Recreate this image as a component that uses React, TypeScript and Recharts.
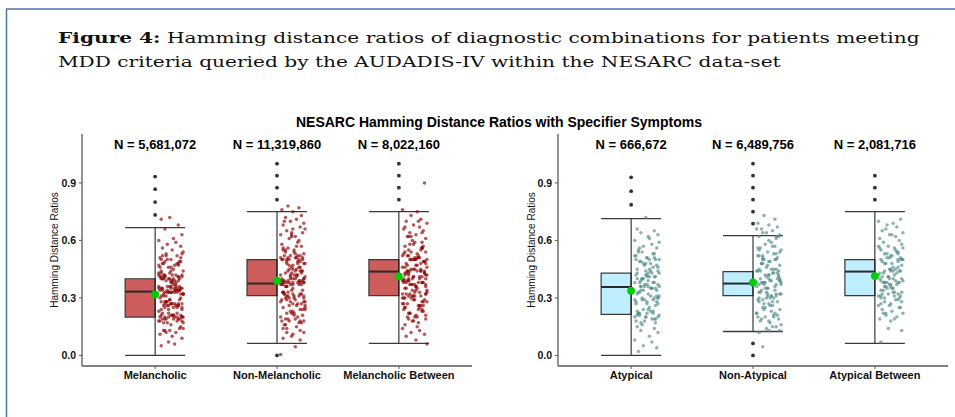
import React from 'react';
import { ComposedChart, XAxis, YAxis, Scatter, ReferenceArea, ReferenceLine } from 'recharts';

// ---------- data ----------
const LEFT_CATS = ['Melancholic', 'Non-Melancholic', 'Melancholic Between'];
const RIGHT_CATS = ['Atypical', 'Non-Atypical', 'Atypical Between'];
const LEFT_N = ['N = 5,681,072', 'N = 11,319,860', 'N = 8,022,160'];
const RIGHT_N = ['N = 666,672', 'N = 6,489,756', 'N = 2,081,716'];

const LEFT_LO = [0, 0.0625, 0.0625];
const LEFT_Q1 = [0.2, 0.3125, 0.3125];
const LEFT_MED = [0.333, 0.375, 0.4375];
const LEFT_Q3 = [0.4, 0.5, 0.5];
const LEFT_HI = [0.667, 0.75, 0.75];
const LEFT_MEAN = [0.318, 0.39, 0.412];

const RIGHT_LO = [0, 0.125, 0.0625];
const RIGHT_Q1 = [0.214, 0.3125, 0.3125];
const RIGHT_MED = [0.357, 0.375, 0.4375];
const RIGHT_Q3 = [0.429, 0.4375, 0.5];
const RIGHT_HI = [0.714, 0.625, 0.75];
const RIGHT_MEAN = [0.338, 0.381, 0.414];

const MEL_OUT = [0.933, 0.867, 0.8, 0.733];
const NONMEL_OUT = [1.0, 0.9375, 0.875, 0.8125, 0.0];
const MELBET_OUT = [1.0, 0.9375, 0.875, 0.8125];
const ATYP_OUT = [0.929, 0.857, 0.786];
const NONATYP_OUT = [1.0, 0.9375, 0.875, 0.8125, 0.75, 0.6875, 0.0625, 0.0];
const ATYPBET_OUT = [0.9375, 0.875, 0.8125];

const MEL_Y = [
  0.72, 0.71, 0.68, 0.66,
  0.63, 0.61, 0.60, 0.59, 0.58, 0.57, 0.56, 0.55, 0.54, 0.53,
  0.52, 0.51, 0.50, 0.49, 0.48, 0.47, 0.46, 0.53, 0.50, 0.48, 0.46, 0.49, 0.51, 0.47, 0.45, 0.50, 0.48, 0.52,
  0.44, 0.43, 0.42, 0.41, 0.40, 0.39, 0.38, 0.42, 0.41, 0.40, 0.39, 0.43, 0.41, 0.42, 0.38, 0.40, 0.44, 0.39, 0.41, 0.42, 0.40, 0.43,
  0.37, 0.36, 0.35, 0.34, 0.33, 0.32, 0.31, 0.35, 0.34, 0.33, 0.36, 0.32, 0.34, 0.33, 0.35, 0.31, 0.34, 0.36, 0.33, 0.32, 0.35, 0.37, 0.34, 0.33, 0.35, 0.32, 0.36, 0.34,
  0.30, 0.29, 0.28, 0.27, 0.26, 0.25, 0.24, 0.27, 0.28, 0.26, 0.25, 0.27, 0.29, 0.24, 0.26, 0.28, 0.27, 0.25, 0.23, 0.26, 0.28, 0.30,
  0.22, 0.21, 0.20, 0.19, 0.18, 0.20, 0.21, 0.19, 0.17, 0.20, 0.22, 0.18, 0.21, 0.19, 0.16, 0.20, 0.15, 0.18, 0.21, 0.17, 0.20, 0.19,
  0.14, 0.13, 0.12, 0.11, 0.14, 0.12, 0.10, 0.13, 0.09, 0.07, 0.06, 0.05,
  0.47, 0.41, 0.35, 0.33, 0.40, 0.34, 0.27, 0.20, 0.19, 0.42, 0.36, 0.26, 0.21, 0.48, 0.39, 0.32, 0.28, 0.22, 0.18, 0.44,
  0.34, 0.40, 0.33, 0.26, 0.20, 0.35, 0.41, 0.27, 0.19, 0.49, 0.36, 0.21, 0.33, 0.25, 0.40, 0.17, 0.29, 0.38, 0.46, 0.34,
  0.52, 0.42, 0.31, 0.24, 0.20, 0.35, 0.41, 0.27, 0.13, 0.39,
];
const NONMEL_Y = [
  0.78, 0.77, 0.76, 0.75, 0.73, 0.72, 0.71, 0.70, 0.69, 0.68, 0.67, 0.66, 0.65, 0.64, 0.63, 0.62, 0.61, 0.60, 0.70, 0.66, 0.63,
  0.59, 0.58, 0.57, 0.56, 0.55, 0.54, 0.53, 0.52, 0.51, 0.50, 0.49, 0.48, 0.47, 0.46, 0.55, 0.52, 0.50, 0.48, 0.53, 0.51, 0.49, 0.47, 0.50, 0.52, 0.54, 0.48, 0.51, 0.46, 0.50,
  0.45, 0.44, 0.43, 0.42, 0.41, 0.40, 0.39, 0.38, 0.37, 0.36, 0.44, 0.42, 0.40, 0.38, 0.37, 0.39, 0.41, 0.43, 0.38, 0.40, 0.37, 0.39, 0.42, 0.36, 0.38, 0.40, 0.41, 0.37, 0.39, 0.38,
  0.35, 0.34, 0.33, 0.32, 0.31, 0.30, 0.29, 0.28, 0.27, 0.26, 0.34, 0.32, 0.30, 0.28, 0.33, 0.31, 0.29, 0.27, 0.32, 0.30, 0.26, 0.28, 0.31,
  0.25, 0.24, 0.23, 0.22, 0.21, 0.20, 0.19, 0.18, 0.17, 0.16, 0.24, 0.22, 0.20, 0.18, 0.17, 0.19, 0.21, 0.16, 0.18, 0.23,
  0.15, 0.14, 0.13, 0.12, 0.11, 0.10, 0.09, 0.08, 0.14, 0.12, 0.045, 0.005,
  0.52, 0.45, 0.39, 0.38, 0.31, 0.25, 0.44, 0.50, 0.37, 0.32, 0.27, 0.19, 0.57, 0.42, 0.38, 0.33, 0.46, 0.40, 0.29, 0.51,
  0.37, 0.44, 0.50, 0.39, 0.32, 0.26, 0.62, 0.48, 0.38, 0.43, 0.31, 0.22, 0.55, 0.40, 0.37, 0.45, 0.33, 0.18, 0.49, 0.38,
  0.64, 0.56, 0.44, 0.36, 0.28, 0.51, 0.39, 0.42, 0.30, 0.24,
];
const MELBET_Y = [
  0.90, 0.76, 0.75, 0.73, 0.71, 0.70, 0.69, 0.68, 0.67, 0.66, 0.65, 0.64, 0.63, 0.62, 0.61, 0.60, 0.70, 0.67, 0.64, 0.62,
  0.59, 0.58, 0.57, 0.56, 0.55, 0.54, 0.53, 0.52, 0.51, 0.50, 0.49, 0.48, 0.47, 0.46, 0.58, 0.55, 0.53, 0.51, 0.49, 0.47, 0.52, 0.50, 0.48, 0.54, 0.56, 0.50, 0.52, 0.49, 0.46, 0.51,
  0.45, 0.44, 0.43, 0.42, 0.41, 0.40, 0.39, 0.38, 0.37, 0.36, 0.44, 0.42, 0.40, 0.38, 0.43, 0.41, 0.39, 0.37, 0.45, 0.42, 0.38, 0.40, 0.36, 0.44, 0.39, 0.41, 0.37, 0.43,
  0.35, 0.34, 0.33, 0.32, 0.31, 0.30, 0.29, 0.28, 0.27, 0.26, 0.34, 0.32, 0.30, 0.28, 0.33, 0.31, 0.29, 0.27, 0.35, 0.30, 0.26, 0.32, 0.28, 0.31,
  0.25, 0.24, 0.23, 0.22, 0.21, 0.20, 0.19, 0.18, 0.17, 0.16, 0.24, 0.22, 0.20, 0.18, 0.25, 0.23, 0.19, 0.21,
  0.15, 0.14, 0.13, 0.12, 0.11, 0.10, 0.08, 0.06,
  0.50, 0.44, 0.38, 0.31, 0.26, 0.44, 0.51, 0.37, 0.32, 0.25, 0.56, 0.45, 0.39, 0.43, 0.30, 0.20, 0.62, 0.48, 0.38, 0.50,
  0.41, 0.33, 0.27, 0.57, 0.44, 0.36, 0.52, 0.40, 0.31, 0.24, 0.46, 0.38, 0.43, 0.50, 0.29, 0.35, 0.59, 0.42, 0.37, 0.47,
  0.32, 0.26, 0.54, 0.44, 0.39, 0.50, 0.34, 0.22, 0.45, 0.40,
];
const ATYP_Y = [
  0.72, 0.66, 0.65, 0.64, 0.63, 0.61, 0.60, 0.58, 0.57, 0.56, 0.55, 0.62, 0.59,
  0.54, 0.53, 0.52, 0.51, 0.50, 0.49, 0.48, 0.47, 0.46, 0.45, 0.53, 0.51, 0.49, 0.47, 0.52, 0.50, 0.48, 0.46, 0.54, 0.50,
  0.44, 0.43, 0.42, 0.41, 0.40, 0.39, 0.38, 0.37, 0.36, 0.35, 0.43, 0.41, 0.39, 0.37, 0.42, 0.40, 0.38, 0.36, 0.44, 0.41, 0.38, 0.35, 0.40,
  0.34, 0.33, 0.32, 0.31, 0.30, 0.29, 0.28, 0.27, 0.26, 0.33, 0.31, 0.29, 0.27, 0.32, 0.30, 0.28, 0.34, 0.31, 0.29,
  0.25, 0.24, 0.23, 0.22, 0.21, 0.20, 0.19, 0.18, 0.17, 0.16, 0.24, 0.22, 0.20, 0.18, 0.23, 0.21, 0.19, 0.17, 0.22, 0.20,
  0.15, 0.14, 0.13, 0.12, 0.10, 0.08, 0.07, 0.05, 0.04, 0.02,
  0.43, 0.36, 0.29, 0.22, 0.50, 0.41, 0.35, 0.21, 0.44, 0.37, 0.30, 0.23, 0.51, 0.42, 0.36, 0.28, 0.20, 0.45, 0.34, 0.38,
  0.22, 0.43, 0.48, 0.35, 0.27, 0.19, 0.40, 0.36, 0.56, 0.30,
];
const NONATYP_Y = [
  0.73, 0.71, 0.69, 0.68, 0.67, 0.66, 0.65, 0.64, 0.63, 0.62, 0.61, 0.60, 0.64, 0.62, 0.66,
  0.59, 0.58, 0.57, 0.56, 0.55, 0.54, 0.53, 0.52, 0.51, 0.50, 0.49, 0.48, 0.47, 0.46, 0.57, 0.55, 0.53, 0.51, 0.49, 0.47, 0.52, 0.50, 0.48, 0.54,
  0.45, 0.44, 0.43, 0.42, 0.41, 0.40, 0.39, 0.38, 0.37, 0.36, 0.44, 0.42, 0.40, 0.38, 0.43, 0.41, 0.39, 0.37, 0.45, 0.40, 0.38, 0.42, 0.36, 0.39,
  0.35, 0.34, 0.33, 0.32, 0.31, 0.30, 0.29, 0.28, 0.27, 0.26, 0.34, 0.32, 0.30, 0.28, 0.33, 0.31, 0.29, 0.27, 0.35, 0.30, 0.32,
  0.25, 0.24, 0.23, 0.22, 0.21, 0.20, 0.19, 0.18, 0.17, 0.16, 0.24, 0.22, 0.20, 0.18, 0.21, 0.19,
  0.15, 0.14, 0.13, 0.12, 0.15, 0.13, 0.045,
  0.44, 0.38, 0.31, 0.25, 0.50, 0.44, 0.37, 0.32, 0.20, 0.56, 0.43, 0.38, 0.30, 0.48, 0.39, 0.33, 0.26, 0.45, 0.37, 0.52,
  0.42, 0.35, 0.28, 0.62, 0.50, 0.40, 0.31, 0.22, 0.45, 0.38,
];
const ATYPBET_Y = [
  0.71, 0.70, 0.69, 0.68, 0.67, 0.65, 0.64, 0.63, 0.62, 0.61, 0.60, 0.66, 0.63,
  0.59, 0.58, 0.57, 0.56, 0.55, 0.54, 0.53, 0.52, 0.51, 0.50, 0.49, 0.48, 0.47, 0.46, 0.57, 0.55, 0.53, 0.51, 0.49, 0.52, 0.50, 0.48, 0.54, 0.56,
  0.45, 0.44, 0.43, 0.42, 0.41, 0.40, 0.39, 0.38, 0.37, 0.36, 0.44, 0.42, 0.40, 0.38, 0.43, 0.41, 0.39, 0.37, 0.45, 0.40, 0.38, 0.36,
  0.35, 0.34, 0.33, 0.32, 0.31, 0.30, 0.29, 0.28, 0.27, 0.26, 0.34, 0.32, 0.30, 0.28, 0.33, 0.31, 0.29, 0.35,
  0.25, 0.24, 0.23, 0.22, 0.21, 0.20, 0.19, 0.18, 0.25, 0.22, 0.19,
  0.14, 0.13, 0.07,
  0.50, 0.44, 0.38, 0.31, 0.26, 0.44, 0.51, 0.37, 0.32, 0.56, 0.45, 0.39, 0.43, 0.30, 0.22, 0.48, 0.38, 0.50, 0.41, 0.33,
  0.27, 0.53, 0.44, 0.36, 0.40, 0.31, 0.46, 0.38, 0.50, 0.35,
];

// horizontal jitter offsets (fraction of a category step, to the right of center)
const JX = [0.12, 0.05, 0.19, 0.08, 0.22, 0.15, 0.03, 0.17, 0.10, 0.21, 0.06, 0.14, 0.23, 0.09, 0.18, 0.04, 0.13, 0.20, 0.07, 0.16, 0.11, 0.22, 0.05, 0.19, 0.13, 0.08, 0.21, 0.03, 0.15, 0.10, 0.18, 0.06, 0.23, 0.12, 0.17, 0.04, 0.20, 0.09, 0.14, 0.07, 0.22, 0.11, 0.16, 0.05, 0.19, 0.08, 0.13];

const Y_TICKS = [0, 0.3, 0.6, 0.9];
const N_LABEL_Y = 1.1;

const CAPTION_BOLD = 'Figure 4:';
const CAPTION_L1 = ' Hamming distance ratios of diagnostic combinations for patients meeting';
const CAPTION_L2 = 'MDD criteria queried by the AUDADIS-IV within the NESARC data-set';

// ---------- styles ----------
const SANS = 'Liberation Sans, Arial, Helvetica, sans-serif';
const SERIF = '"DejaVu Serif", serif';
const CAP_SIZE = 15.5;
const CAP_X = 58;
const CAP_W1 = 862;
const CAP_W2 = 723;
const HALF = 0.246;

function measure(text: string, font: string): number {
  try {
    const ctx = document.createElement('canvas').getContext('2d');
    if (!ctx) return text.length * 8.5;
    ctx.font = font;
    return ctx.measureText(text).width;
  } catch (e) {
    return text.length * 8.5;
  }
}

type PanelProps = {
  cats: string[];
  ns: string[];
  lo: number[];
  q1: number[];
  med: number[];
  q3: number[];
  hi: number[];
  mean: number[];
  outliers: number[][];
  points: number[][];
  boxFill: string;
  pointFill: string;
  width: number;
  marginLeft: number;
  marginRight: number;
};

function Panel(p: PanelProps) {
  const jitter = p.points.flatMap((ys, ci) =>
    ys.map((y, i) => ({ x: ci + 1 + JX[(i + ci * 13) % JX.length], y }))
  );
  const outs = p.outliers.flatMap((ys, ci) => ys.map((y) => ({ x: ci + 1, y })));
  const means = p.mean.map((y, ci) => ({ x: ci + 1, y }));
  const stroke = '#3a3a3a';
  return (
    <ComposedChart
      width={p.width}
      height={417}
      margin={{ top: 134, right: p.marginRight, bottom: 21, left: p.marginLeft }}
    >
      <XAxis
        type="number"
        dataKey="x"
        domain={[0.4, 3.6]}
        ticks={[1, 2, 3]}
        interval={0}
        allowDataOverflow
        height={30}
        tickSize={3}
        tickMargin={2}
        tickFormatter={(v: number) => p.cats[Math.round(v) - 1]}
        axisLine={{ stroke: '#5a5a5a', strokeWidth: 1.3 }}
        tickLine={{ stroke: '#5a5a5a' }}
        tick={{ fill: '#111', fontSize: 11, fontWeight: 'bold', fontFamily: SANS }}
      />
      <YAxis
        type="number"
        dataKey="y"
        domain={[-0.055, 1.155]}
        ticks={Y_TICKS}
        interval={0}
        allowDataOverflow
        width={40}
        tickSize={3}
        tickMargin={3}
        tickFormatter={(v: number) => v.toFixed(1)}
        axisLine={{ stroke: '#5a5a5a', strokeWidth: 1.3 }}
        tickLine={{ stroke: '#5a5a5a' }}
        tick={{ fill: '#111', fontSize: 10.5, fontWeight: 'bold', fontFamily: SANS }}
      />
      {p.cats.map((_, ci) => {
        const c = ci + 1;
        return (
          <ReferenceArea
            key={'box' + ci}
            x1={c - HALF}
            x2={c}
            y1={p.q1[ci]}
            y2={p.q3[ci]}
            fill={p.boxFill}
            fillOpacity={1}
            stroke={stroke}
            strokeWidth={1.2}
            ifOverflow="visible"
          />
        );
      })}
      {p.cats.map((_, ci) => {
        const c = ci + 1;
        return (
          <ReferenceLine
            key={'vw' + ci}
            segment={[{ x: c, y: p.lo[ci] }, { x: c, y: p.hi[ci] }]}
            stroke="#111"
            strokeWidth={1}
            ifOverflow="visible"
          />
        );
      })}
      {p.cats.map((_, ci) => {
        const c = ci + 1;
        return (
          <ReferenceLine
            key={'hw' + ci}
            segment={[{ x: c - HALF, y: p.hi[ci] }, { x: c + HALF, y: p.hi[ci] }]}
            stroke={stroke}
            strokeWidth={1.3}
            ifOverflow="visible"
          />
        );
      })}
      {p.cats.map((_, ci) => {
        const c = ci + 1;
        return (
          <ReferenceLine
            key={'lw' + ci}
            segment={[{ x: c - HALF, y: p.lo[ci] }, { x: c + HALF, y: p.lo[ci] }]}
            stroke={stroke}
            strokeWidth={1.3}
            ifOverflow="visible"
          />
        );
      })}
      {p.cats.map((_, ci) => {
        const c = ci + 1;
        return (
          <ReferenceLine
            key={'md' + ci}
            segment={[{ x: c - HALF, y: p.med[ci] }, { x: c, y: p.med[ci] }]}
            stroke="#2a2a2a"
            strokeWidth={2}
            ifOverflow="visible"
          />
        );
      })}
      <Scatter
        data={jitter}
        isAnimationActive={false}
        shape={(s: any) => (
          <circle cx={s.cx} cy={s.cy} r={1.75} fill={p.pointFill} fillOpacity={0.65} />
        )}
      />
      <Scatter
        data={outs}
        isAnimationActive={false}
        shape={(s: any) => <circle cx={s.cx} cy={s.cy} r={1.9} fill="#333" />}
      />
      <Scatter
        data={means}
        isAnimationActive={false}
        shape={(s: any) => <circle cx={s.cx} cy={s.cy} r={3.9} fill="#00cd00" />}
      />
      {p.ns.map((label, ci) => (
        <Scatter
          key={'n' + ci}
          data={[{ x: ci + 1, y: N_LABEL_Y }]}
          isAnimationActive={false}
          shape={(s: any) => (
            <text
              x={s.cx}
              y={s.cy + 4.7}
              textAnchor="middle"
              fontFamily={SANS}
              fontWeight="bold"
              fontSize={13}
              fill="#000"
            >
              {label}
            </text>
          )}
        />
      ))}
    </ComposedChart>
  );
}

export default function App() {
  const reg = `${CAP_SIZE}px ${SERIF}`;
  const bold = `bold ${CAP_SIZE}px ${SERIF}`;
  const nat2 = measure(CAPTION_L2, reg);
  const k = nat2 > 0 ? CAP_W2 / nat2 : 1;
  const nat1 = measure(CAPTION_BOLD, bold) + measure(CAPTION_L1, reg);
  const ws1 = (CAP_W1 / k - nat1) / 10;
  return (
    <div style={{ position: 'absolute', left: 0, top: 0, width: 955, height: 417, background: '#fff', overflow: 'hidden' }}>
      <svg width={955} height={417} style={{ position: 'absolute', left: 0, top: 0 }}>
        <line x1={6} y1={9} x2={955} y2={9} stroke="#4f73a8" strokeWidth={1.5} />
        <line x1={6.5} y1={9} x2={6.5} y2={417} stroke="#4f73a8" strokeWidth={1.5} />
        <g transform={`translate(${CAP_X},0) scale(${k},1)`}>
          <text
            x={0}
            y={43}
            fontFamily={SERIF}
            fontSize={CAP_SIZE}
            fill="#111"
            style={{ wordSpacing: `${ws1}px`, whiteSpace: 'pre' }}
          >
            <tspan fontWeight="bold">{CAPTION_BOLD}</tspan>
            <tspan>{CAPTION_L1}</tspan>
          </text>
          <text x={0} y={67} fontFamily={SERIF} fontSize={CAP_SIZE} fill="#111" style={{ whiteSpace: 'pre' }}>
            {CAPTION_L2}
          </text>
        </g>
        <text x={499} y={127} textAnchor="middle" fontFamily={SANS} fontWeight="bold" fontSize={14} fill="#000">
          NESARC Hamming Distance Ratios with Specifier Symptoms
        </text>
        <text
          x={0}
          y={0}
          transform="translate(54,250) rotate(-90)"
          textAnchor="middle"
          dominantBaseline="central"
          fontFamily={SANS}
          fontSize={10}
          fill="#111"
        >
          Hamming Distance Ratios
        </text>
        <text
          x={0}
          y={0}
          transform="translate(531,250) rotate(-90)"
          textAnchor="middle"
          dominantBaseline="central"
          fontFamily={SANS}
          fontSize={10}
          fill="#111"
        >
          Hamming Distance Ratios
        </text>
      </svg>
      <div style={{ position: 'absolute', left: 0, top: 0 }}>
        <Panel
          cats={LEFT_CATS}
          ns={LEFT_N}
          lo={LEFT_LO}
          q1={LEFT_Q1}
          med={LEFT_MED}
          q3={LEFT_Q3}
          hi={LEFT_HI}
          mean={LEFT_MEAN}
          outliers={[MEL_OUT, NONMEL_OUT, MELBET_OUT]}
          points={[MEL_Y, NONMEL_Y, MELBET_Y]}
          boxFill="#cd5c5c"
          pointFill="#8b0000"
          width={480}
          marginLeft={42}
          marginRight={8}
        />
      </div>
      <div style={{ position: 'absolute', left: 480, top: 0 }}>
        <Panel
          cats={RIGHT_CATS}
          ns={RIGHT_N}
          lo={RIGHT_LO}
          q1={RIGHT_Q1}
          med={RIGHT_MED}
          q3={RIGHT_Q3}
          hi={RIGHT_HI}
          mean={RIGHT_MEAN}
          outliers={[ATYP_OUT, NONATYP_OUT, ATYPBET_OUT]}
          points={[ATYP_Y, NONATYP_Y, ATYPBET_Y]}
          boxFill="#bfefff"
          pointFill="#528b8b"
          width={475}
          marginLeft={38}
          marginRight={7}
        />
      </div>
    </div>
  );
}
